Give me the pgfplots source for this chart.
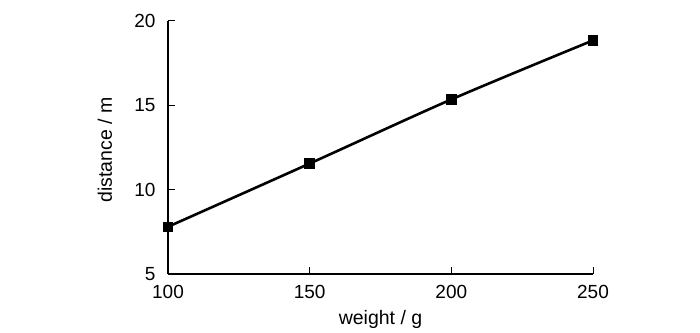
\documentclass[border=0pt]{standalone}
\usepackage{fontspec}
\setmainfont{Liberation Sans}
\usepackage{pgfplots}
\pgfplotsset{compat=1.18}
\begin{document}
\begin{tikzpicture}
\path (-168pt,-58pt) rectangle (532pt,274pt);
\begin{axis}[
  at={(0,0)}, anchor=south west,
  scale only axis, width=425pt, height=253pt,
  xmin=100, xmax=250, ymin=5, ymax=20,
  xtick={100,150,200,250}, ytick={5,10,15,20},
  axis x line*=bottom, axis y line*=left,
  axis line style={line width=1.2pt, -},
  tick style={line width=1pt, black},
  tick align=inside, major tick length=7pt,
  /pgf/number format/assume math mode=true,
  tick label style={font=\fontsize{19}{22}\selectfont},
  label style={font=\fontsize{19.5}{24}\selectfont},
  xticklabel style={anchor=center, yshift=-18pt},
  yticklabel style={anchor=east, xshift=-9pt},
  xlabel={weight / g}, ylabel={distance / m},
  xlabel style={at={(axis description cs:0.5,0)}, anchor=center, yshift=-45pt},
  ylabel style={at={(axis description cs:0,0.49)}, anchor=center, yshift=63pt},
  clip=false,
]
\addplot[black, line width=2.6pt, smooth, mark=square*, mark size=4.7pt, mark options={line width=0pt}]
  coordinates {(100,7.8) (150,11.55) (200,15.35) (250,18.85)};
\end{axis}
\end{tikzpicture}
\end{document}
